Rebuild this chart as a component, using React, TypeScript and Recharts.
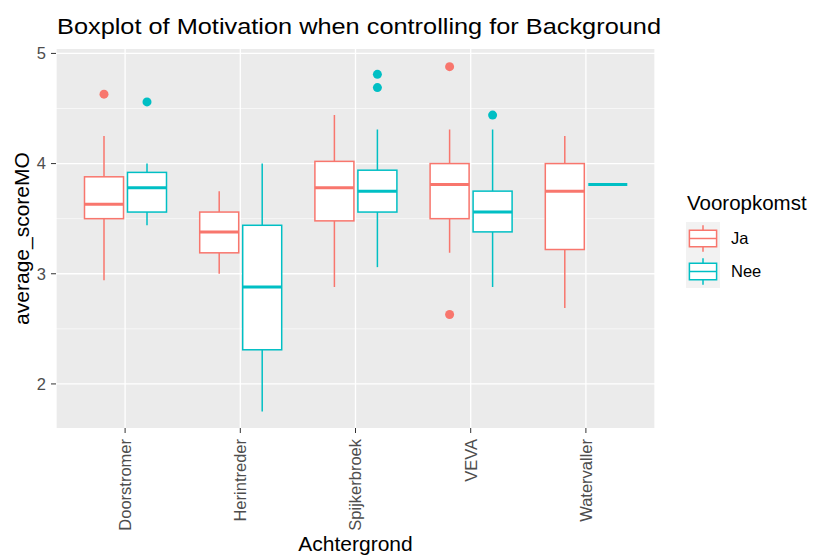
import React from "react";
import {
    ComposedChart,
    Bar,
    XAxis,
    YAxis,
    CartesianGrid,
    Label,
} from "recharts";

const categories = ["Doorstromer", "Herintreder", "Spijkerbroek", "VEVA", "Watervaller"];

// Vooropkomst = Ja
const jaLow = [2.94, 3.0, 2.88, 3.19, 2.69];
const jaQ1 = [3.5, 3.19, 3.48, 3.5, 3.22];
const jaMedian = [3.63, 3.38, 3.78, 3.81, 3.75];
const jaQ3 = [3.88, 3.56, 4.02, 4.0, 4.0];
const jaHigh = [4.25, 3.75, 4.44, 4.31, 4.25];
const jaOutliers = [[4.63], [], [], [4.88, 2.63], []];

// Vooropkomst = Nee
const neeLow = [3.44, 1.75, 3.06, 2.88, 3.81];
const neeQ1 = [3.56, 2.31, 3.56, 3.38, 3.81];
const neeMedian = [3.78, 2.88, 3.75, 3.56, 3.81];
const neeQ3 = [3.92, 3.44, 3.94, 3.75, 3.81];
const neeHigh = [4.0, 4.0, 4.31, 4.31, 3.81];
const neeOutliers = [[4.56], [], [4.81, 4.69], [4.44], []];

const yTicks = [2, 3, 4, 5];
const yMinorTicks = [2.5, 3.5, 4.5];
const legendLabels = ["Ja", "Nee"];

const JA_COLOR = "#F8766D";
const NEE_COLOR = "#00BFC4";
const FONT = "'Liberation Sans', Arial, Helvetica, sans-serif";

const data = categories.map((name, i) => ({
    name,
    ja: [jaLow[i], jaHigh[i]],
    nee: [neeLow[i], neeHigh[i]],
    jaStats: { low: jaLow[i], q1: jaQ1[i], median: jaMedian[i], q3: jaQ3[i], high: jaHigh[i], outliers: jaOutliers[i] },
    neeStats: { low: neeLow[i], q1: neeQ1[i], median: neeMedian[i], q3: neeQ3[i], high: neeHigh[i], outliers: neeOutliers[i] },
}));

const BoxShape = (props: any) => {
    const { x, y, width, height, payload, group, color } = props;
    const s = payload[group + "Stats"];
    const cx = x + width / 2;
    const half = width / 2 - 2;
    const top = Math.min(y, y + height);
    const h = Math.abs(height);
    const span = s.high - s.low;

    // all values equal: only the median line
    if (!span) {
        return (
            <line x1={cx - half} x2={cx + half} y1={top} y2={top} stroke={color} strokeWidth={3} />
        );
    }

    const toY = (v: number) => top + ((s.high - v) / span) * h;

    return (
        <g>
            <line x1={cx} x2={cx} y1={toY(s.high)} y2={toY(s.q3)} stroke={color} strokeWidth={1.5} />
            <line x1={cx} x2={cx} y1={toY(s.q1)} y2={toY(s.low)} stroke={color} strokeWidth={1.5} />
            <rect
                x={cx - half}
                y={toY(s.q3)}
                width={half * 2}
                height={toY(s.q1) - toY(s.q3)}
                fill="#fff"
                stroke={color}
                strokeWidth={1.5}
            />
            <line x1={cx - half} x2={cx + half} y1={toY(s.median)} y2={toY(s.median)} stroke={color} strokeWidth={3} />
            {s.outliers.map((v: number, k: number) => (
                <circle key={k} cx={cx} cy={toY(v)} r={4.5} fill={color} />
            ))}
        </g>
    );
};

const XTick = ({ x, y, payload }: any) => (
    <text
        transform={`translate(${x},${y}) rotate(-90)`}
        textAnchor="end"
        dy="0.36em"
        fontSize={16.5}
        fill="#4D4D4D"
        fontFamily={FONT}
    >
        {payload.value}
    </text>
);

const LegendKey = ({ x, y, color }: any) => {
    // key box 34x33, ggplot style boxplot glyph
    const w = 34;
    const h = 33;
    const cx = x + w / 2;
    return (
        <g>
            <rect x={x} y={y} width={w} height={h} fill="#F2F2F2" />
            <line x1={cx} x2={cx} y1={y + h * 0.1} y2={y + h * 0.25} stroke={color} strokeWidth={1.5} />
            <line x1={cx} x2={cx} y1={y + h * 0.75} y2={y + h * 0.9} stroke={color} strokeWidth={1.5} />
            <rect x={x + w * 0.1} y={y + h * 0.25} width={w * 0.8} height={h * 0.5} fill="#fff" stroke={color} strokeWidth={1.5} />
            <line x1={x + w * 0.1} x2={x + w * 0.9} y1={y + h * 0.5} y2={y + h * 0.5} stroke={color} strokeWidth={1.5} />
        </g>
    );
};

const App: React.FC = () => {
    return (
        <div
            style={{
                position: "absolute",
                left: 0,
                top: 0,
                width: 814,
                height: 557,
                background: "#fff",
                fontFamily: FONT,
            }}
        >
            <ComposedChart
                width={814}
                height={557}
                data={data}
                margin={{ top: 49, right: 159, bottom: 0, left: 0 }}
                barGap={0}
                barSize={43}
                style={{ position: "absolute", left: 0, top: 0 }}
            >
                <CartesianGrid fill="#EBEBEB" stroke="#fff" strokeWidth={1.3} horizontalValues={yTicks} />
                <CartesianGrid stroke="#fff" strokeWidth={0.6} vertical={false} horizontalValues={yMinorTicks} />
                <XAxis
                    dataKey="name"
                    type="category"
                    height={129}
                    axisLine={false}
                    tickLine={{ stroke: "#333", strokeWidth: 1 }}
                    tickSize={5}
                    tickMargin={6}
                    tick={<XTick />}
                    interval={0}
                    padding={{ left: 11.5, right: 11.5 }}
                >
                    <Label
                        value="Achtergrond"
                        position="insideBottom"
                        offset={6}
                        fontSize={21}
                        fill="#000"
                        fontFamily={FONT}
                    />
                </XAxis>
                <YAxis
                    type="number"
                    width={56}
                    domain={[1.6, 5.04]}
                    ticks={yTicks}
                    allowDataOverflow
                    axisLine={false}
                    tickLine={{ stroke: "#333", strokeWidth: 1 }}
                    tickSize={5}
                    tickMargin={5}
                    tick={{ fontSize: 16.5, fill: "#4D4D4D", fontFamily: FONT }}
                >
                    <Label
                        content={({ viewBox }: any) => (
                            <text
                                transform={`translate(29,${viewBox.y + viewBox.height / 2}) rotate(-90)`}
                                textAnchor="middle"
                                fontSize={21}
                                fill="#000"
                                fontFamily={FONT}
                            >
                                average_scoreMO
                            </text>
                        )}
                    />
                </YAxis>
                <Bar
                    dataKey="ja"
                    isAnimationActive={false}
                    shape={(p: any) => <BoxShape {...p} group="ja" color={JA_COLOR} />}
                />
                <Bar
                    dataKey="nee"
                    isAnimationActive={false}
                    shape={(p: any) => <BoxShape {...p} group="nee" color={NEE_COLOR} />}
                />
            </ComposedChart>
            <svg
                width={814}
                height={557}
                style={{ position: "absolute", left: 0, top: 0, pointerEvents: "none" }}
            >
                <text
                    x={57}
                    y={34}
                    fontSize={22.5}
                    fill="#000"
                    fontFamily={FONT}
                    textLength={604}
                    lengthAdjust="spacingAndGlyphs"
                >
                    Boxplot of Motivation when controlling for Background
                </text>
                <text x={687} y={210} fontSize={20.5} fill="#000" fontFamily={FONT}>
                    Vooropkomst
                </text>
                {legendLabels.map((label, i) => (
                    <g key={label}>
                        <LegendKey x={686} y={222 + i * 33} color={i === 0 ? JA_COLOR : NEE_COLOR} />
                        <text x={731} y={244 + i * 33} fontSize={16.5} fill="#000" fontFamily={FONT}>
                            {label}
                        </text>
                    </g>
                ))}
            </svg>
        </div>
    );
};

export default App;
